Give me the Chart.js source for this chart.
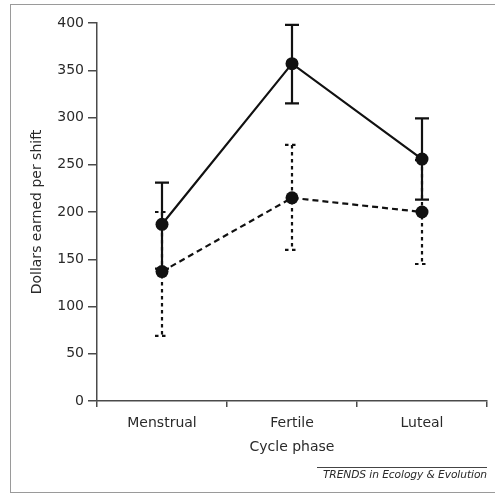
<!DOCTYPE html>
<html lang="en">
<head>
    <meta charset="UTF-8">
    <title>Dollars earned per shift by cycle phase</title>
    <script src="https://cdn.jsdelivr.net/npm/chart.js"></script>
    <style>
        html, body {
            margin: 0;
            padding: 0;
            background: #fff;
            overflow: hidden;
        }
        .frame {
            position: absolute;
            left: 10px;
            top: 4px;
            width: 500px;
            height: 487px;
            border: 1.5px solid #9a9a9a;
        }
        #chart {
            position: absolute;
            left: 0;
            top: 0;
        }
        .source {
            position: absolute;
            left: 317px;
            top: 467px;
            width: 170px;
            border-top: 1px solid #444;
            font-family: 'DejaVu Sans', sans-serif;
            font-style: italic;
            font-size: 10.7px;
            letter-spacing: -0.1px;
            color: #2a2a2a;
            text-align: right;
            padding-top: 0;
            white-space: nowrap;
        }
    </style>
</head>
<body>
    <div class="frame"></div>
    <canvas id="chart" width="495" height="494"></canvas>
    <div class="source">TRENDS in Ecology &amp; Evolution</div>

    <script>
        // values
        const phases = ['Menstrual', 'Fertile', 'Luteal'];
        const yTicks = [0, 50, 100, 150, 200, 250, 300, 350, 400];

        const solidMean  = [187, 357, 256];
        const solidLower = [140, 315, 213];
        const solidUpper = [231, 398, 299];

        const dashedMean  = [137, 215, 200];
        const dashedLower = [69, 160, 145];
        const dashedUpper = [200, 271, 255];

        const ink = '#111';
        const axisGray = '#4a4a4a';
        const textGray = '#2a2a2a';
        const font = { family: "'DejaVu Sans', sans-serif", size: 14 };

        // error bars drawn under the markers
        const errorBars = {
            id: 'errorBars',
            beforeDatasetsDraw(chart) {
                const ctx = chart.ctx;
                const x = chart.scales.x;
                const y = chart.scales.y;
                chart.data.datasets.forEach(ds => {
                    ctx.save();
                    ctx.strokeStyle = ink;
                    ctx.lineWidth = 2.2;
                    ctx.setLineDash(ds.errDash);
                    ds.data.forEach((v, i) => {
                        const px = x.getPixelForValue(i);
                        const top = y.getPixelForValue(ds.upper[i]);
                        const bot = y.getPixelForValue(ds.lower[i]);
                        ctx.beginPath();
                        ctx.moveTo(px, top);
                        ctx.lineTo(px, bot);
                        ctx.moveTo(px - 7, top);
                        ctx.lineTo(px + 7, top);
                        ctx.moveTo(px - 7, bot);
                        ctx.lineTo(px + 7, bot);
                        ctx.stroke();
                    });
                    ctx.restore();
                });
            }
        };

        new Chart(document.getElementById('chart'), {
            type: 'line',
            data: {
                labels: phases,
                datasets: [
                    {
                        label: 'dashed',
                        data: dashedMean,
                        lower: dashedLower,
                        upper: dashedUpper,
                        errDash: [3.5, 3.5],
                        borderColor: ink,
                        backgroundColor: ink,
                        borderWidth: 2.2,
                        borderDash: [6, 4],
                        pointRadius: 6.5,
                        pointBackgroundColor: ink,
                        pointBorderWidth: 0,
                        tension: 0
                    },
                    {
                        label: 'solid',
                        data: solidMean,
                        lower: solidLower,
                        upper: solidUpper,
                        errDash: [],
                        borderColor: ink,
                        backgroundColor: ink,
                        borderWidth: 2.2,
                        pointRadius: 6.5,
                        pointBackgroundColor: ink,
                        pointBorderWidth: 0,
                        tension: 0
                    }
                ]
            },
            options: {
                responsive: false,
                animation: false,
                layout: { padding: { top: 23, right: 8, left: 0, bottom: 0 } },
                plugins: {
                    legend: { display: false },
                    tooltip: { enabled: false }
                },
                scales: {
                    x: {
                        offset: true,
                        grid: { offset: true, drawOnChartArea: false, tickLength: 6, color: axisGray, lineWidth: 1.5 },
                        border: { color: axisGray, width: 1.5 },
                        ticks: { color: textGray, font: font, padding: 8, maxRotation: 0 },
                        title: { display: true, text: 'Cycle phase', color: textGray, font: font, padding: { top: 0, bottom: 38 } },
                        afterFit(scale) { scale.height = 93; }
                    },
                    y: {
                        min: 0,
                        max: 400,
                        afterBuildTicks(scale) { scale.ticks = yTicks.map(v => ({ value: v })); },
                        grid: { drawOnChartArea: false, tickLength: 9, color: axisGray, lineWidth: 1.5 },
                        border: { color: axisGray, width: 1.5 },
                        ticks: { color: textGray, font: font, padding: 4 },
                        title: { display: true, text: 'Dollars earned per shift', color: textGray, font: font, padding: { top: 29, bottom: 0 } },
                        afterFit(scale) { scale.width = 97; }
                    }
                }
            },
            plugins: [errorBars]
        });
    </script>
</body>
</html>
